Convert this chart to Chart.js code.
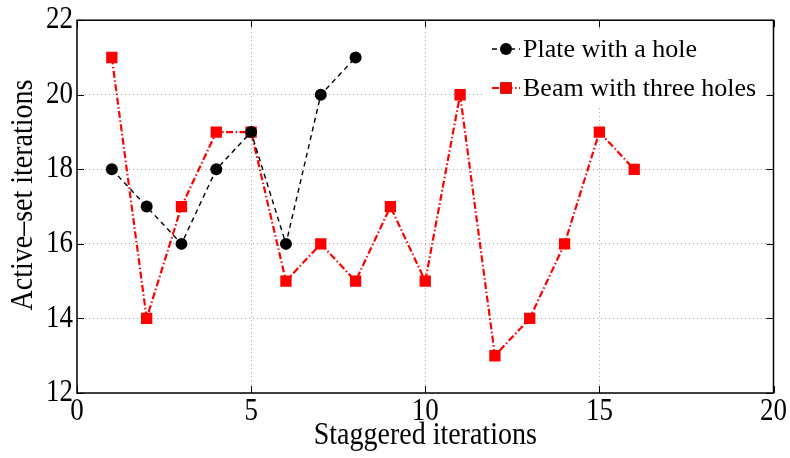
<!DOCTYPE html>
<html>
<head>
<meta charset="utf-8">
<script src="https://cdn.jsdelivr.net/npm/chart.js@4.4.1/dist/chart.umd.min.js"></script>
<style>
  html, body { margin: 0; padding: 0; background: #fff; }
  #wrap { width: 790px; height: 458px; }
</style>
</head>
<body>
<div id="wrap"><canvas id="chart" width="790" height="458"></canvas></div>
<script>
// staggered iteration index and active-set iteration counts per problem
const plateSteps = [1, 2, 3, 4, 5, 6, 7, 8];
const plateHole = [18, 17, 16, 18, 19, 16, 20, 21];
const beamSteps = [1, 2, 3, 4, 5, 6, 7, 8, 9, 10, 11, 12, 13, 14, 15, 16];
const beamThreeHoles = [21, 14, 17, 19, 19, 15, 16, 15, 17, 15, 20, 13, 14, 16, 19, 18];
const xTicks = [0, 5, 10, 15, 20];
const yTicks = [12, 14, 16, 18, 20, 22];

const FONT = "'Liberation Serif', 'Times New Roman', serif";
const TEXT_STRETCH = 1.15; // axis lettering is a bit taller than wide

function toPoints(xs, ys) {
    return xs.map((x, i) => ({ x: x, y: ys[i] }));
}

// stretch axis text vertically while the scales are drawn
const stretchPlugin = {
    id: 'stretchText',
    beforeDraw(chart) {
        const ctx = chart.ctx;
        const orig = CanvasRenderingContext2D.prototype.fillText;
        ctx.fillText = function (t, x, y, mw) {
            this.save();
            this.translate(x, y);
            this.scale(1, TEXT_STRETCH);
            if (mw === undefined) orig.call(this, t, 0, 0);
            else orig.call(this, t, 0, 0, mw);
            this.restore();
        };
    },
    beforeDatasetsDraw(chart) {
        delete chart.ctx.fillText;
    }
};

// box frame with inward tick marks, matlab style, plus y title
const framePlugin = {
    id: 'frame',
    afterDatasetsDraw(chart) {
        const { ctx, chartArea: a, scales } = chart;
        ctx.save();
        ctx.strokeStyle = '#000';
        ctx.lineWidth = 1.5;
        ctx.strokeRect(a.left, a.top, a.right - a.left, a.bottom - a.top);
        ctx.lineWidth = 1;
        const len = 7;
        ctx.beginPath();
        xTicks.forEach(v => {
            const px = Math.round(scales.x.getPixelForValue(v)) + 0.5;
            ctx.moveTo(px, a.bottom); ctx.lineTo(px, a.bottom - len);
            ctx.moveTo(px, a.top); ctx.lineTo(px, a.top + len);
        });
        yTicks.forEach(v => {
            const py = Math.round(scales.y.getPixelForValue(v)) + 0.5;
            ctx.moveTo(a.left, py); ctx.lineTo(a.left + len, py);
            ctx.moveTo(a.right, py); ctx.lineTo(a.right - len, py);
        });
        ctx.stroke();

        ctx.translate(24, 195);
        ctx.rotate(-Math.PI / 2);
        ctx.scale(1, TEXT_STRETCH);
        ctx.fillStyle = '#000';
        ctx.font = '28px ' + FONT;
        ctx.textAlign = 'center';
        ctx.textBaseline = 'middle';
        ctx.fillText('Active\u2013set iterations', 0, 0);
        ctx.restore();
    }
};

// legend with line sample and marker in the middle
const legendPlugin = {
    id: 'sampleLegend',
    afterDatasetsDraw(chart) {
        const { ctx } = chart;
        const box = { x: 484, y: 30, w: 282, h: 76 };
        ctx.save();
        ctx.fillStyle = '#fff';
        ctx.fillRect(box.x, box.y, box.w, box.h);
        chart.data.datasets.forEach((ds, i) => {
            const y = 49 + i * 39;
            ctx.strokeStyle = ds.borderColor;
            ctx.lineWidth = ds.borderWidth;
            ctx.setLineDash(ds.borderDash);
            ctx.beginPath();
            ctx.moveTo(492, y); ctx.lineTo(520, y);
            ctx.stroke();
            ctx.setLineDash([]);
            Chart.helpers.drawPoint(ctx, {
                pointStyle: ds.pointStyle, radius: ds.pointRadius, borderWidth: 0, rotation: 0
            }, 506, y);
            ctx.fillStyle = ds.pointBackgroundColor;
            ctx.fill();
            ctx.fillStyle = '#000';
            ctx.font = '26px ' + FONT;
            ctx.textBaseline = 'middle';
            ctx.textAlign = 'left';
            ctx.fillText(ds.label, 523, y + 1);
        });
        ctx.restore();
    }
};

new Chart(document.getElementById('chart'), {
    type: 'line',
    data: {
        datasets: [{
            label: 'Plate with a hole',
            data: toPoints(plateSteps, plateHole),
            borderColor: '#000',
            borderWidth: 1.4,
            borderDash: [5, 4],
            pointStyle: 'circle',
            pointRadius: 6,
            pointBackgroundColor: '#000',
            pointBorderWidth: 0,
            tension: 0,
            fill: false
        }, {
            label: 'Beam with three holes',
            data: toPoints(beamSteps, beamThreeHoles),
            borderColor: '#ff0000',
            borderWidth: 2.2,
            borderDash: [7, 2.5, 1.5, 2.5],
            pointStyle: 'rect',
            pointRadius: 8,
            pointBackgroundColor: '#ff0000',
            pointBorderWidth: 0,
            tension: 0,
            fill: false
        }]
    },
    options: {
        responsive: false,
        animation: false,
        layout: { padding: { top: 18, right: 16, left: 0, bottom: 0 } },
        plugins: {
            legend: { display: false },
            tooltip: { enabled: false }
        },
        scales: {
            x: {
                type: 'linear',
                min: 0,
                max: 20,
                afterBuildTicks: s => { s.ticks = xTicks.map(v => ({ value: v })); },
                afterFit: s => { s.height = 65; },
                grid: { color: '#a0a0a0', lineWidth: 1, drawTicks: false },
                border: { display: false, dash: [1, 3] },
                ticks: { color: '#000', font: { family: FONT, size: 27 }, padding: 3, maxRotation: 0 },
                title: {
                    display: true,
                    text: 'Staggered iterations',
                    color: '#000',
                    font: { family: FONT, size: 28 },
                    padding: { top: 0, bottom: 6 }
                }
            },
            y: {
                min: 12,
                max: 22,
                afterBuildTicks: s => { s.ticks = yTicks.map(v => ({ value: v })); },
                afterFit: s => { s.width = 77; },
                grid: { color: '#a0a0a0', lineWidth: 1, drawTicks: false },
                border: { display: false, dash: [1, 3] },
                ticks: { color: '#000', font: { family: FONT, size: 27 }, padding: 4 }
            }
        }
    },
    plugins: [stretchPlugin, framePlugin, legendPlugin]
});
</script>
</body>
</html>
